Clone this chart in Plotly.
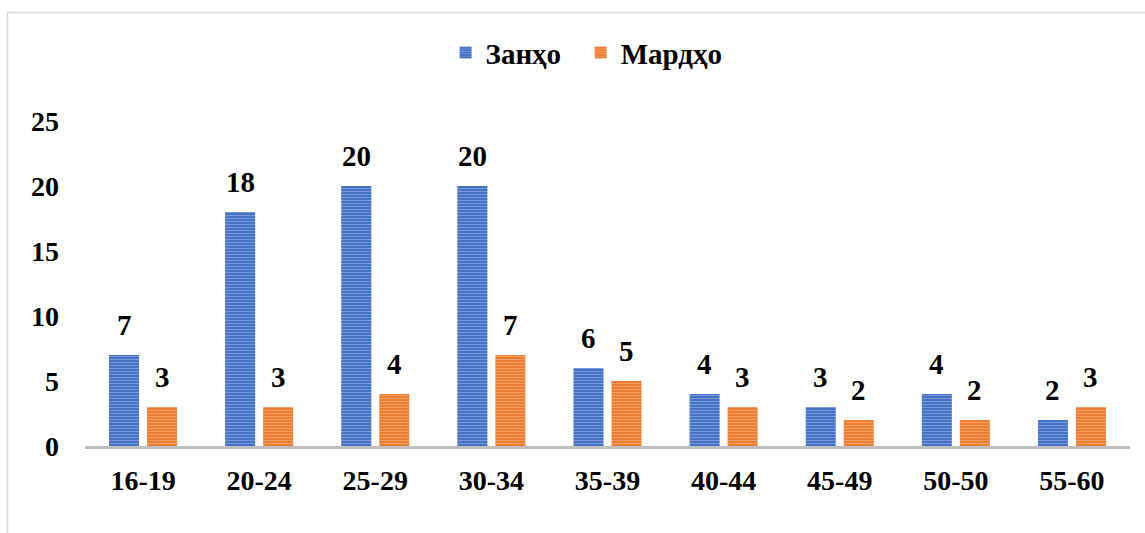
import plotly.graph_objects as go

categories = ["16-19", "20-24", "25-29", "30-34", "35-39", "40-44", "45-49", "50-50", "55-60"]
women = [7, 18, 20, 20, 6, 4, 3, 4, 2]
men = [3, 3, 4, 7, 5, 3, 2, 2, 3]
y_ticks = [0, 5, 10, 15, 20, 25]

FONT = "Liberation Serif"
BLUE = "#4472C4"
ORANGE = "#ED7D31"

fig = go.Figure()
fig.add_trace(go.Bar(
    x=categories, y=women, name="<b>Занҳо</b>  ",
    marker=dict(color=BLUE, line=dict(width=0),
                pattern=dict(shape="-", fgcolor="#B4C7EE", bgcolor=BLUE, size=3, solidity=0.3, fillmode="overlay")),
))
fig.add_trace(go.Bar(
    x=categories, y=men, name="<b>Мардҳо</b>",
    marker=dict(color=ORANGE, line=dict(width=0),
                pattern=dict(shape="-", fgcolor="#F8C9A8", bgcolor=ORANGE, size=3, solidity=0.3, fillmode="overlay")),
))

annotations = []
for series, shift in ((women, -19), (men, 19)):
    for c, v in zip(categories, series):
        annotations.append(dict(x=c, y=v, xref="x", yref="y", xshift=shift, yshift=12,
                                yanchor="bottom", showarrow=False, text=f"<b>{v}</b>",
                                font=dict(family=FONT, size=29, color="black")))

fig.update_layout(
    width=1145, height=533,
    margin=dict(l=85, r=15, t=121, b=87),
    paper_bgcolor="white", plot_bgcolor="white",
    barmode="group", bargap=0.345, bargroupgap=0.21,
    font=dict(family=FONT, size=28, color="black"),
    showlegend=True,
    legend=dict(orientation="h", x=0.48, xanchor="center", y=1.21, yanchor="middle",
                font=dict(family=FONT, size=29, color="black"), itemwidth=30,
                bgcolor="rgba(0,0,0,0)"),
    xaxis=dict(showgrid=False, showline=True, linecolor="#BFBFBF", linewidth=3,
               ticks="", tickfont=dict(family=FONT, size=28, color="black"),
               tickprefix="<b>", ticksuffix="</b>", ticklabelstandoff=7),
    yaxis=dict(range=[0, 25], tickvals=y_ticks, ticktext=[f"<b>{t}</b>" for t in y_ticks],
               showgrid=False, zeroline=False, showline=False, ticks="",
               tickfont=dict(family=FONT, size=28, color="black"), ticklabelstandoff=25),
    annotations=annotations,
    shapes=[
        dict(type="line", xref="paper", yref="paper", x0=(7 - 85) / 1045, x1=1.05,
             y0=(446 - 12.5) / 325, y1=(446 - 12.5) / 325, line=dict(color="#D9D9D9", width=1.5)),
        dict(type="line", xref="paper", yref="paper", x0=(7.5 - 85) / 1045, x1=(7.5 - 85) / 1045,
             y0=(446 - 12) / 325, y1=-0.3, line=dict(color="#D9D9D9", width=1.5)),
    ],
)

fig.write_html("out.html")
